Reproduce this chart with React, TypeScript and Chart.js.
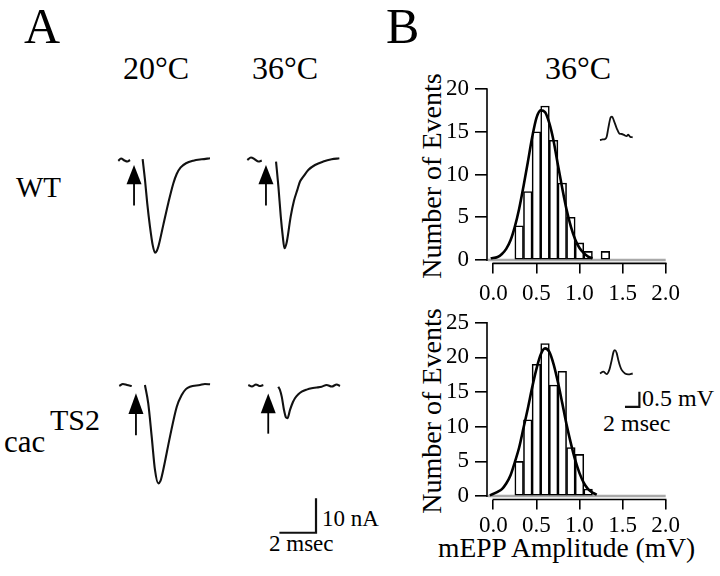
import React, { useEffect, useRef } from 'react';
import { Chart, registerables } from 'chart.js';

Chart.register(...registerables);

type Pt = [number, number];

const FONT = "'Liberation Serif', 'Times New Roman', Times, serif";

// ---------------- Panel A: evoked currents (time ms, current nA, baseline 0) ----------------
const WT20_PRE: Pt[] = [[0, -0.4], [0.15, 0.3], [0.34, -0.3], [0.5, -0.6], [0.64, -0.15]];
const WT20_EPSC: Pt[] = [[1.33, 0.1], [1.46, -6.0], [1.58, -12.7], [1.73, -19.5], [1.88, -24.9], [2.01, -27.1], [2.1, -26.6], [2.19, -25.3], [2.46, -19.0], [2.73, -12.7], [3.01, -6.9], [3.19, -4.2], [3.41, -2.3], [3.7, -1.1], [4.1, -0.35], [4.56, 0.06], [5.01, 0.35]];

const WT36_PRE: Pt[] = [[0, -0.15], [0.2, 0.6], [0.42, 0], [0.61, -0.6], [0.79, -0.3]];
const WT36_EPSC: Pt[] = [[1.57, -0.6], [1.7, -7.9], [1.83, -16.6], [1.94, -22.4], [2.03, -25.8], [2.16, -23.9], [2.37, -16.6], [2.55, -12.0], [2.73, -8.9], [2.88, -6.4], [3.06, -5.0], [3.33, -3.05], [3.7, -1.6], [4.15, -0.6], [4.61, 0.06], [5.03, 0.35]];

const CAC20_PRE: Pt[] = [[0, -0.3], [0.2, 0.3], [0.42, 0], [0.68, -0.3]];
const CAC20_EPSC: Pt[] = [[1.4, 0], [1.58, -5.3], [1.77, -15.0], [1.95, -24.7], [2.13, -28.6], [2.25, -27.9], [2.4, -24.7], [2.77, -15.0], [3.14, -6.3], [3.41, -2.9], [3.64, -1.2], [3.86, -0.5], [4.41, 0], [4.68, 0.3], [4.96, 0.2]];

const CAC36_PRE: Pt[] = [[0, 0.15], [0.2, -0.3], [0.42, 0.3], [0.61, -0.15], [0.82, 0.15]];
const CAC36_EPSC: Pt[] = [[1.64, -0.35], [1.73, -1.3], [1.83, -3.3], [1.95, -7.1], [2.06, -9.3], [2.14, -9.5], [2.28, -7.1], [2.44, -4.8], [2.55, -3.7], [2.72, -2.6], [2.92, -1.8], [3.19, -1.2], [3.46, -0.8], [3.74, -0.6], [4.01, -0.35], [4.28, 0.15], [4.56, -0.3], [4.83, 0.3], [5.01, -0.15]];

// stimulus arrows: [time, tip, head base, tail] (ms, nA)
const WT20_ARROW = [0.86, -1.6, -7.2, -13.4];
const WT36_ARROW = [1.02, -1.6, -7.2, -13.4];
const CAC20_ARROW = [0.91, -2.4, -8.4, -14.6];
const CAC36_ARROW = [1.09, -2.3, -8.1, -14.0];

// scale bar 2 msec / 10 nA
const SCALEBAR_A: Pt[] = [[1.7, -42.8], [3.7, -42.8], [3.7, -32.8]];

// ---------------- Panel B: mEPP amplitude histograms at 36°C ----------------
const BIN_CENTERS = [0.3, 0.4, 0.5, 0.6, 0.7, 0.8, 0.9, 1.0, 1.1, 1.2, 1.3];
const BIN_WIDTH = 0.1;
const WT_COUNTS = [4, 8, 15, 18, 14, 9, 5, 2, 1, 0, 1];
const CAC_COUNTS = [5, 11, 19, 22, 16, 18, 7, 6, 1, 0, 0];

const WT_FIT: Pt[] = [[-0.03, 0.2], [0.05, 0.35], [0.1, 0.7], [0.15, 1.3], [0.2, 2.3], [0.25, 3.9], [0.3, 6.0], [0.35, 8.6], [0.4, 11.4], [0.45, 14.3], [0.5, 16.6], [0.55, 17.5], [0.6, 17.3], [0.65, 16.0], [0.7, 13.9], [0.75, 11.1], [0.8, 8.4], [0.85, 5.9], [0.9, 3.9], [0.95, 2.4], [1.0, 1.4], [1.05, 0.8], [1.1, 0.4], [1.15, 0.2]];
const CAC_FIT: Pt[] = [[-0.04, 0.1], [0.05, 0.6], [0.1, 1.0], [0.15, 1.8], [0.2, 3.0], [0.25, 4.9], [0.3, 7.0], [0.35, 9.8], [0.4, 12.6], [0.45, 15.6], [0.5, 18.3], [0.55, 20.4], [0.6, 21.3], [0.65, 20.8], [0.7, 19.0], [0.75, 16.4], [0.8, 13.4], [0.85, 10.3], [0.9, 7.6], [0.95, 5.2], [1.0, 3.3], [1.05, 1.9], [1.1, 1.0], [1.15, 0.5], [1.2, 0.2]];

// sample mEPPs (ms, mV)
const WT_MEPP: Pt[] = [[0, 0], [0.37, 0.02], [0.69, 0.03], [0.93, 0.11], [1.15, 0.39], [1.49, 0.76], [1.67, 0.78], [1.94, 0.64], [2.32, 0.39], [2.68, 0.22], [3.01, 0.2], [3.33, 0.17], [3.7, 0.13], [3.93, 0.18], [4.17, 0.11], [4.54, 0.09]];
const CAC_MEPP: Pt[] = [[0, 0], [0.46, 0.06], [0.93, -0.02], [1.29, 0.12], [1.63, 0.45], [1.88, 0.72], [2.08, 0.78], [2.32, 0.68], [2.54, 0.45], [2.78, 0.25], [3.01, 0.12], [3.47, 0], [3.93, -0.03], [4.54, 0]];
// scale bar 2 msec / 0.5 mV
const SCALEBAR_B: Pt[] = [[3.47, -1.11], [5.47, -1.11], [5.47, -0.61]];

const X_TICKS = [0, 0.5, 1, 1.5, 2];
const X_TICK_LABELS = ['0.0', '0.5', '1.0', '1.5', '2.0'];
const WT_Y_TICKS = [0, 5, 10, 15, 20];
const WT_Y_LABELS = ['0', '5', '10', '15', '20'];
const CAC_Y_TICKS = [0, 5, 10, 15, 20, 25];
const CAC_Y_LABELS = ['0', '5', '10', '15', '20', '25'];

// ---------------- layout ----------------
const PX_PER_MS = 18.3;
const PX_PER_NA = 3.44;
const INSET_PX_PER_MS = 7.2;
const INSET_PX_PER_MV = 30;

const TRACE_LAYOUT = {
  wt20: { left: 105, top: 145, width: 115, height: 120, x0: 118.3, base: 159.5 },
  wt36: { left: 235, top: 145, width: 115, height: 120, x0: 247.3, base: 159.5 },
  cac20: { left: 105, top: 370, width: 115, height: 125, x0: 119.3, base: 385 },
  cac36: { left: 235, top: 370, width: 115, height: 175, x0: 248.3, base: 385.5 },
};
const INSET_LAYOUT = {
  wt: { left: 588, top: 102, width: 62, height: 48, x0: 600, base: 140 },
  cac: { left: 588, top: 335, width: 62, height: 80, x0: 600, base: 373.5 },
};

const H_LEFT = 418;
const H_WIDTH = 290;
const H_AXIS_W = 69;
const H_PAD_RIGHT = 42.3;
const X_MIN = -0.073;
const HIST_LAYOUT = {
  wt: { top: 67, height: 233, padTop: 22, xAxisH: 36.6, yMin: -0.4, yMax: 20, tickPad: 7 },
  cac: { top: 300, height: 276, padTop: 22.7, xAxisH: 76.5, yMin: -0.5, yMax: 25, tickPad: 3 },
};

const toXY = (pts: Pt[]) => pts.map(([x, y]) => ({ x, y }));

const traceStyle = { borderColor: '#111', borderWidth: 2.1, pointRadius: 0, fill: false, cubicInterpolationMode: 'monotone' as const };

const arrowPlugin = {
  id: 'stimArrow',
  afterDatasetsDraw(chart: any, _args: any, opts: any) {
    if (!opts || !opts.arrow) return;
    const [t, tip, base, end] = opts.arrow;
    const { ctx, scales } = chart;
    const px = scales.x.getPixelForValue(t);
    const yTip = scales.y.getPixelForValue(tip);
    const yBase = scales.y.getPixelForValue(base);
    const yEnd = scales.y.getPixelForValue(end);
    ctx.save();
    ctx.fillStyle = '#000';
    ctx.strokeStyle = '#000';
    ctx.lineWidth = 1.8;
    ctx.beginPath();
    ctx.moveTo(px, yBase - 1);
    ctx.lineTo(px, yEnd);
    ctx.stroke();
    ctx.beginPath();
    ctx.moveTo(px, yTip);
    ctx.lineTo(px - 7.5, yBase);
    ctx.lineTo(px + 7.5, yBase);
    ctx.closePath();
    ctx.fill();
    ctx.restore();
  },
};

function traceConfig(layout: any, datasets: any[], arrow: number[] | null, pxX: number, pxY: number): any {
  const xMin = (layout.left - layout.x0) / pxX;
  const xMax = xMin + layout.width / pxX;
  const yMax = (layout.base - layout.top) / pxY;
  const yMin = yMax - layout.height / pxY;
  return {
    type: 'line',
    data: { datasets },
    options: {
      animation: false,
      responsive: false,
      events: [],
      layout: { padding: 0 },
      plugins: { legend: { display: false }, tooltip: { enabled: false }, stimArrow: { arrow } },
      scales: {
        x: { type: 'linear', display: false, min: xMin, max: xMax },
        y: { type: 'linear', display: false, min: yMin, max: yMax },
      },
    },
    plugins: [arrowPlugin],
  };
}

const histAxesPlugin = {
  id: 'histAxes',
  beforeDatasetsDraw(chart: any) {
    const { ctx, scales, chartArea } = chart;
    const y0 = scales.y.getPixelForValue(0);
    ctx.save();
    ctx.strokeStyle = '#a9a9a9';
    ctx.lineWidth = 2.5;
    ctx.beginPath();
    ctx.moveTo(chartArea.left + 1, y0);
    ctx.lineTo(scales.x.getPixelForValue(2), y0);
    ctx.stroke();
    ctx.restore();
  },
  afterDraw(chart: any, _args: any, opts: any) {
    const { ctx, scales, chartArea } = chart;
    ctx.save();
    ctx.strokeStyle = '#000';
    ctx.lineWidth = 1.6;
    ctx.beginPath();
    ctx.moveTo(chartArea.left, scales.y.getPixelForValue(opts.yTop) - 0.8);
    ctx.lineTo(chartArea.left, scales.y.getPixelForValue(0) + 1);
    ctx.moveTo(scales.x.getPixelForValue(0) - 0.8, chartArea.bottom);
    ctx.lineTo(scales.x.getPixelForValue(2) + 0.8, chartArea.bottom);
    ctx.stroke();
    ctx.restore();
  },
};

function histConfig(L: any, counts: number[], fit: Pt[], yTicks: number[], yLabels: string[]): any {
  const areaW = H_WIDTH - H_AXIS_W - H_PAD_RIGHT;
  const barPx = (BIN_WIDTH * areaW) / (2 - X_MIN);
  return {
    type: 'bar',
    data: {
      datasets: [
        {
          type: 'bar',
          data: BIN_CENTERS.map((c, i) => ({ x: c, y: counts[i] })),
          backgroundColor: '#fff',
          borderColor: '#000',
          borderWidth: 1.6,
          borderSkipped: false,
          grouped: false,
          barThickness: barPx,
          order: 3,
        },
        {
          type: 'line',
          data: toXY(fit),
          borderColor: '#000',
          borderWidth: 2.6,
          pointRadius: 0,
          cubicInterpolationMode: 'monotone',
          order: 1,
        },
      ],
    },
    options: {
      animation: false,
      responsive: false,
      events: [],
      layout: { padding: { top: L.padTop, right: H_PAD_RIGHT, left: 0, bottom: 0 } },
      plugins: { legend: { display: false }, tooltip: { enabled: false }, histAxes: { yTop: L.yMax } },
      scales: {
        x: {
          type: 'linear',
          min: X_MIN,
          max: 2,
          offset: false,
          border: { display: false },
          grid: { display: true, offset: false, drawOnChartArea: false, drawTicks: true, tickLength: 10, color: '#000', lineWidth: 1.6 },
          ticks: {
            includeBounds: false,
            padding: L.tickPad,
            maxRotation: 0,
            color: '#000',
            font: { family: FONT, size: 23 },
            callback: (v: number) => {
              const i = X_TICKS.findIndex((t) => Math.abs(t - v) < 1e-9);
              return i >= 0 ? X_TICK_LABELS[i] : '';
            },
          },
          afterBuildTicks: (s: any) => {
            s.ticks = X_TICKS.map((v) => ({ value: v }));
          },
          afterFit: (s: any) => {
            s.height = L.xAxisH;
          },
        },
        y: {
          type: 'linear',
          min: L.yMin,
          max: L.yMax,
          border: { display: false },
          grid: { display: true, drawOnChartArea: false, drawTicks: true, tickLength: 12, color: '#000', lineWidth: 1.6 },
          ticks: {
            includeBounds: false,
            padding: 6,
            color: '#000',
            font: { family: FONT, size: 23 },
            callback: (v: number) => {
              const i = yTicks.findIndex((t) => Math.abs(t - v) < 1e-9);
              return i >= 0 ? yLabels[i] : '';
            },
          },
          afterBuildTicks: (s: any) => {
            s.ticks = yTicks.map((v) => ({ value: v }));
          },
          afterFit: (s: any) => {
            s.width = H_AXIS_W;
          },
        },
      },
    },
    plugins: [histAxesPlugin],
  };
}

const Text = ({ children, left, top, size }: { children: any; left: number; top: number; size: number }) => (
  <div style={{ position: 'absolute', left, top, fontSize: size, lineHeight: 1, whiteSpace: 'nowrap' }}>{children}</div>
);

const VText = ({ children, cx, cy, size }: { children: any; cx: number; cy: number; size: number }) => (
  <div
    style={{
      position: 'absolute',
      left: cx,
      top: cy,
      fontSize: size,
      lineHeight: 1,
      whiteSpace: 'nowrap',
      transform: 'translate(-50%, -50%) rotate(-90deg)',
    }}
  >
    {children}
  </div>
);

export default function App() {
  const wt20 = useRef<HTMLCanvasElement>(null);
  const wt36 = useRef<HTMLCanvasElement>(null);
  const cac20 = useRef<HTMLCanvasElement>(null);
  const cac36 = useRef<HTMLCanvasElement>(null);
  const histWT = useRef<HTMLCanvasElement>(null);
  const histCAC = useRef<HTMLCanvasElement>(null);
  const insetWT = useRef<HTMLCanvasElement>(null);
  const insetCAC = useRef<HTMLCanvasElement>(null);

  useEffect(() => {
    const charts: Chart[] = [];
    const mk = (el: HTMLCanvasElement | null, cfg: any) => {
      if (el) charts.push(new Chart(el, cfg));
    };
    const T = TRACE_LAYOUT;
    mk(wt20.current, traceConfig(T.wt20, [{ ...traceStyle, data: toXY(WT20_PRE) }, { ...traceStyle, data: toXY(WT20_EPSC) }], WT20_ARROW, PX_PER_MS, PX_PER_NA));
    mk(wt36.current, traceConfig(T.wt36, [{ ...traceStyle, data: toXY(WT36_PRE) }, { ...traceStyle, data: toXY(WT36_EPSC) }], WT36_ARROW, PX_PER_MS, PX_PER_NA));
    mk(cac20.current, traceConfig(T.cac20, [{ ...traceStyle, data: toXY(CAC20_PRE) }, { ...traceStyle, data: toXY(CAC20_EPSC) }], CAC20_ARROW, PX_PER_MS, PX_PER_NA));
    mk(
      cac36.current,
      traceConfig(
        T.cac36,
        [
          { ...traceStyle, data: toXY(CAC36_PRE) },
          { ...traceStyle, data: toXY(CAC36_EPSC) },
          { ...traceStyle, data: toXY(SCALEBAR_A), borderWidth: 2.2, cubicInterpolationMode: 'default', tension: 0, borderJoinStyle: 'miter' },
        ],
        CAC36_ARROW,
        PX_PER_MS,
        PX_PER_NA,
      ),
    );
    mk(histWT.current, histConfig(HIST_LAYOUT.wt, WT_COUNTS, WT_FIT, WT_Y_TICKS, WT_Y_LABELS));
    mk(histCAC.current, histConfig(HIST_LAYOUT.cac, CAC_COUNTS, CAC_FIT, CAC_Y_TICKS, CAC_Y_LABELS));
    mk(insetWT.current, traceConfig(INSET_LAYOUT.wt, [{ ...traceStyle, borderWidth: 1.8, data: toXY(WT_MEPP) }], null, INSET_PX_PER_MS, INSET_PX_PER_MV));
    mk(
      insetCAC.current,
      traceConfig(
        INSET_LAYOUT.cac,
        [
          { ...traceStyle, borderWidth: 1.8, data: toXY(CAC_MEPP) },
          { ...traceStyle, data: toXY(SCALEBAR_B), borderWidth: 2.2, cubicInterpolationMode: 'default', tension: 0, borderJoinStyle: 'miter' },
        ],
        null,
        INSET_PX_PER_MS,
        INSET_PX_PER_MV,
      ),
    );
    return () => charts.forEach((c) => c.destroy());
  }, []);

  const canvasStyle = (l: number, t: number, w: number, h: number): React.CSSProperties => ({
    position: 'absolute',
    left: l,
    top: t,
    width: w,
    height: h,
  });

  const T = TRACE_LAYOUT;
  const I = INSET_LAYOUT;
  const HW = HIST_LAYOUT.wt;
  const HC = HIST_LAYOUT.cac;

  return (
    <div
      style={{
        position: 'fixed',
        left: 0,
        top: 0,
        width: 720,
        height: 576,
        background: '#fff',
        color: '#000',
        fontFamily: FONT,
        overflow: 'hidden',
      }}
    >
      <Text left={24} top={1} size={50}>A</Text>
      <Text left={386} top={1} size={50}>B</Text>
      <Text left={123} top={52} size={32}>20°C</Text>
      <Text left={252} top={52} size={32}>36°C</Text>
      <Text left={545} top={52} size={32}>36°C</Text>
      <Text left={16} top={173} size={29}>WT</Text>
      <Text left={4} top={426} size={31}>cac</Text>
      <Text left={50} top={405} size={30}>TS2</Text>
      <Text left={322} top={507} size={23}>10 nA</Text>
      <Text left={269} top={532} size={23}>2 msec</Text>
      <Text left={642} top={386} size={24}>0.5 mV</Text>
      <Text left={603} top={411} size={24}>2 msec</Text>
      <VText cx={432} cy={176} size={28}>Number of Events</VText>
      <VText cx={432} cy={411} size={28}>Number of Events</VText>
      <Text left={438} top={533.5} size={27.5}>mEPP Amplitude (mV)</Text>

      <canvas ref={wt20} width={T.wt20.width} height={T.wt20.height} style={canvasStyle(T.wt20.left, T.wt20.top, T.wt20.width, T.wt20.height)} />
      <canvas ref={wt36} width={T.wt36.width} height={T.wt36.height} style={canvasStyle(T.wt36.left, T.wt36.top, T.wt36.width, T.wt36.height)} />
      <canvas ref={cac20} width={T.cac20.width} height={T.cac20.height} style={canvasStyle(T.cac20.left, T.cac20.top, T.cac20.width, T.cac20.height)} />
      <canvas ref={cac36} width={T.cac36.width} height={T.cac36.height} style={canvasStyle(T.cac36.left, T.cac36.top, T.cac36.width, T.cac36.height)} />
      <canvas ref={histWT} width={H_WIDTH} height={HW.height} style={canvasStyle(H_LEFT, HW.top, H_WIDTH, HW.height)} />
      <canvas ref={histCAC} width={H_WIDTH} height={HC.height} style={canvasStyle(H_LEFT, HC.top, H_WIDTH, HC.height)} />
      <canvas ref={insetWT} width={I.wt.width} height={I.wt.height} style={canvasStyle(I.wt.left, I.wt.top, I.wt.width, I.wt.height)} />
      <canvas ref={insetCAC} width={I.cac.width} height={I.cac.height} style={canvasStyle(I.cac.left, I.cac.top, I.cac.width, I.cac.height)} />
    </div>
  );
}
